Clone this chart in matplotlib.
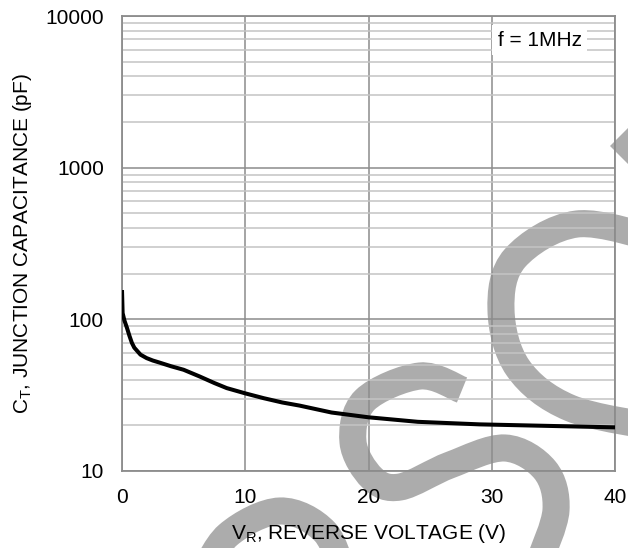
import numpy as np
import matplotlib
matplotlib.use("Agg")
import matplotlib.pyplot as plt
from matplotlib.path import Path
from matplotlib.patches import PathPatch, Polygon

plt.rcParams['font.family'] = ['Liberation Sans', 'DejaVu Sans']

# Reverse voltage (V) and junction capacitance (pF)
vr = [0, 0.05, 0.2, 0.4, 0.6, 0.8, 1.0, 1.5, 2.0, 2.5, 3.0, 4, 5, 6.3, 7.5, 8.5, 10, 11.5,
      13, 14.4, 17, 20, 24, 29, 35, 40]
ct = [156, 110, 98, 88, 78, 70, 65, 58.5, 55.5, 53.5, 52, 49, 46.5, 42, 38, 35.2, 32.5, 30.2,
      28.3, 27.0, 24.3, 22.6, 21.1, 20.3, 19.8, 19.4]

x_ticks = [0, 10, 20, 30, 40]
y_ticks = [10, 100, 1000, 10000]

W, H = 628, 548
fig = plt.figure(figsize=(W / 100, H / 100), dpi=100)
ax = fig.add_axes([122 / W, 1 - 471 / H, (615 - 122) / W, (471 - 16) / H])
ax.set_facecolor('none')


# watermark, drawn in figure pixels (y downwards) behind the axes
def px(x, y):
    return (x / W, 1 - y / H)


def smooth_path(pts):
    # catmull-rom through the guide points -> cubic beziers
    pts = [np.array(px(*p)) for p in pts]
    verts = [pts[0]]
    codes = [Path.MOVETO]
    for i in range(len(pts) - 1):
        p0 = pts[i - 1] if i > 0 else pts[i]
        p1, p2 = pts[i], pts[i + 1]
        p3 = pts[i + 2] if i + 2 < len(pts) else pts[i + 1]
        verts += [p1 + (p2 - p0) / 6, p2 - (p3 - p1) / 6, p2]
        codes += [Path.CURVE4] * 3
    return Path(verts, codes)


wm = '#acacac'
strokes = [
    [(462, 390), (420, 376), (365, 400), (353, 442), (372, 478), (400, 487),
     (450, 465), (505, 448), (545, 470), (556, 510), (540, 560)],
    [(660, 240), (577, 224), (515, 258), (501, 310), (518, 368), (570, 408), (660, 428)],
    [(200, 580), (228, 535), (280, 511), (325, 532), (345, 580)],
]
for s in strokes:
    fig.add_artist(PathPatch(smooth_path(s), fill=False, edgecolor=wm, lw=19.5,
                             capstyle='butt', transform=fig.transFigure, zorder=-1))
fig.add_artist(Polygon([px(610, 146), px(632, 124), px(632, 168)], closed=True,
                       facecolor=wm, edgecolor='none', transform=fig.transFigure, zorder=-1))

ax.set_yscale('log')
ax.set_xlim(0, 40)
ax.set_ylim(10, 10000)

ax.set_xticks(x_ticks)
ax.set_xticklabels([str(t) for t in x_ticks])
ax.set_yticks(y_ticks)
ax.set_yticklabels([str(t) for t in y_ticks])
ax.yaxis.set_minor_locator(matplotlib.ticker.LogLocator(base=10, subs=range(2, 10)))
ax.yaxis.set_minor_formatter(matplotlib.ticker.NullFormatter())
ax.tick_params(axis='both', which='both', length=0, labelsize=15, colors='black')
ax.tick_params(axis='y', pad=13)
ax.tick_params(axis='x', pad=12)

ax.grid(True, which='minor', axis='y', color='#c4c4c4', lw=1.1)
ax.grid(True, which='major', axis='both', color='#8c8c8c', lw=1.1)
ax.set_axisbelow(True)
for sp in ax.spines.values():
    sp.set_color('#8c8c8c')
    sp.set_linewidth(1.3)

ax.plot(vr, ct, color='black', lw=2.9, solid_capstyle='butt', solid_joinstyle='round', zorder=5)

ax.text(0.847, 0.947, 'f = 1MHz', transform=ax.transAxes, fontsize=15,
        ha='center', va='center', zorder=6,
        bbox=dict(facecolor='white', edgecolor='none', pad=4))

ax.set_xlabel('V$_\\mathregular{R}$, REVERSE VOLTAGE (V)', fontsize=15, labelpad=11)
ax.set_ylabel('C$_\\mathregular{T}$, JUNCTION CAPACITANCE (pF)', fontsize=15, labelpad=8)

fig.savefig('out.png', dpi=100)
